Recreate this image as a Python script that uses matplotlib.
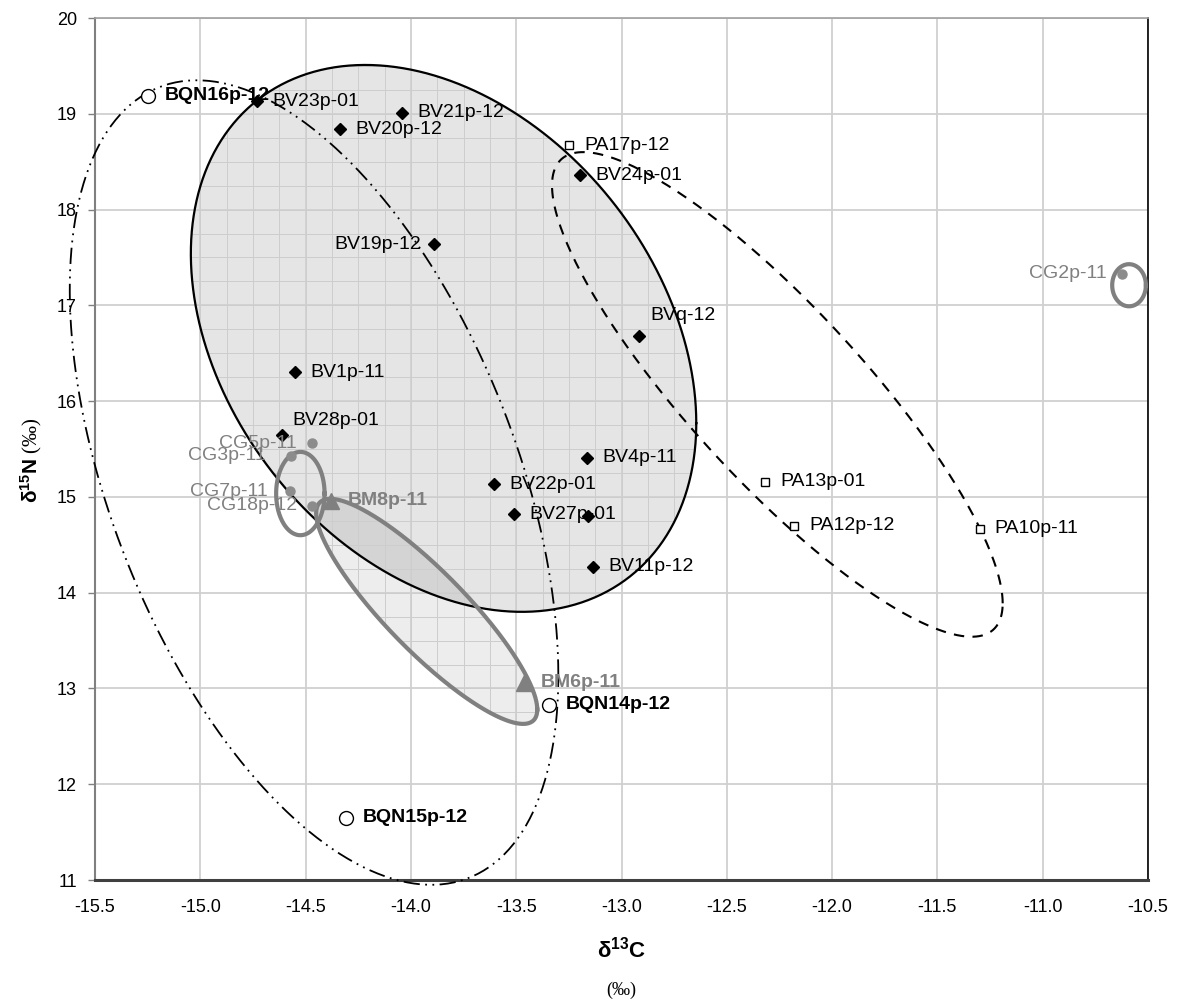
import numpy as np
import matplotlib
matplotlib.use("Agg")
import matplotlib.pyplot as plt
from matplotlib.patches import Polygon
from matplotlib.ticker import FormatStrFormatter, MultipleLocator

plt.rcParams['font.family'] = ['Liberation Sans', 'DejaVu Sans']
plt.rcParams['mathtext.fontset'] = 'custom'
plt.rcParams['mathtext.bf'] = 'Liberation Sans:bold'
plt.rcParams['mathtext.rm'] = 'Liberation Sans'
plt.rcParams['axes.unicode_minus'] = False

# --- data (d13C, d15N) ---
bv_names = ["BV23p-01", "BV21p-12", "BV20p-12", "BV19p-12", "BV24p-01", "BVq-12", "BV1p-11",
            "BV28p-01", "BV4p-11", "BV22p-01", "BV27p-01", "", "BV11p-12"]
bv_x = [-14.73, -14.04, -14.335, -13.89, -13.195, -12.915, -14.55,
        -14.61, -13.165, -13.605, -13.51, -13.16, -13.135]
bv_y = [19.13, 19.01, 18.84, 17.64, 18.36, 16.68, 16.30,
        15.65, 15.41, 15.13, 14.82, 14.80, 14.27]

pa_names = ["PA17p-12", "PA13p-01", "PA12p-12", "PA10p-11"]
pa_x = [-13.25, -12.32, -12.18, -11.30]
pa_y = [18.67, 15.16, 14.70, 14.67]

bqn_names = ["BQN16p-12", "BQN14p-12", "BQN15p-12"]
bqn_x = [-15.25, -13.345, -14.31]
bqn_y = [19.19, 12.83, 11.65]

bm_names = ["BM8p-11", "BM6p-11"]
bm_x = [-14.38, -13.465]
bm_y = [14.96, 13.06]

cg_names = ["CG5p-11", "CG3p-11", "CG7p-11", "CG18p-12", "CG2p-11"]
cg_x = [-14.47, -14.57, -14.575, -14.47, -10.625]
cg_y = [15.56, 15.43, 15.06, 14.91, 17.33]

# ellipses: BV, BQN, PA, BM, CG, CG2
# x = cx + rx cos t, y = cy + ry cos(t - phi), cos(phi) given
ell_cx = [-13.845, -14.46, -12.26, -13.925, -14.525, -10.59]
ell_cy = [16.655, 15.15, 16.07, 13.805, 15.035, 17.21]
ell_rx = [1.20, 1.16, 1.07, 0.525, 0.115, 0.08]
ell_ry = [2.855, 4.20, 2.53, 1.175, 0.435, 0.22]
ell_cos = [-0.31, -0.48, -0.862, -0.872, 0.0, 0.0]

GREY = '#808080'


def ellipse_pts(i):
    t = np.linspace(0, 2 * np.pi, 400)
    phi = np.arccos(ell_cos[i])
    x = ell_cx[i] + ell_rx[i] * np.cos(t)
    y = ell_cy[i] + ell_ry[i] * np.cos(t - phi)
    return x, y


fig = plt.figure(figsize=(11.79, 10.07), dpi=100)
ax = fig.add_axes([0.0806, 0.1261, 0.8931, 0.856])
ax.set_xlim(-15.5, -10.5)
ax.set_ylim(11, 20)

# fills
bvx, bvy = ellipse_pts(0)
bmx, bmy = ellipse_pts(3)
bv_patch = Polygon(np.column_stack([bvx, bvy]), closed=True, facecolor='black',
                   alpha=0.10, edgecolor='none', zorder=0.5)
bm_patch = Polygon(np.column_stack([bmx, bmy]), closed=True, facecolor='black',
                   alpha=0.07, edgecolor='none', zorder=0.5)
ax.add_patch(bv_patch)
ax.add_patch(bm_patch)

# minor grid showing only inside the filled ellipses
for patch in (bv_patch, bm_patch):
    for xv in np.arange(-15.5, -10.49, 0.125):
        ln, = ax.plot([xv, xv], [11, 20], color='#cdcdcd', lw=0.7, zorder=0.8)
        ln.set_clip_path(patch)
    for yv in np.arange(11, 20.01, 0.25):
        ln, = ax.plot([-15.5, -10.5], [yv, yv], color='#cdcdcd', lw=0.7, zorder=0.8)
        ln.set_clip_path(patch)

# major grid
ax.xaxis.set_major_locator(MultipleLocator(0.5))
ax.yaxis.set_major_locator(MultipleLocator(1))
ax.grid(True, color='#d0d0d0', lw=1.3, zorder=1)
ax.set_axisbelow(True)

# outlines
ax.plot(bvx, bvy, color='black', lw=1.6, zorder=3)
x, y = ellipse_pts(1)
ax.plot(x, y, color='black', lw=1.3, ls=(0, (9, 3, 1, 3, 1, 3)), zorder=3, clip_on=False)
x, y = ellipse_pts(2)
ax.plot(x, y, color='black', lw=1.5, ls=(0, (5, 4)), zorder=3)
ax.plot(bmx, bmy, color=GREY, lw=3, zorder=3)
for i in (4, 5):
    x, y = ellipse_pts(i)
    ax.plot(x, y, color=GREY, lw=3, zorder=3)

# markers
ax.plot(bv_x, bv_y, 'D', color='black', ms=6, ls='none', zorder=5)
ax.plot(pa_x, pa_y, 's', mfc='white', mec='black', mew=1, ms=6, ls='none', zorder=5)
ax.plot(bqn_x, bqn_y, 'o', mfc='white', mec='black', mew=1, ms=10, ls='none', zorder=5)
ax.plot(bm_x, bm_y, '^', color=GREY, ms=12, ls='none', zorder=5)
ax.plot(cg_x, cg_y, 'o', color='#8c8c8c', ms=6.5, ls='none', zorder=5)

# labels
FS = 14
special = {"BV19p-12": (-9, 0, 'right'), "BV28p-01": (7, 10, 'left'), "BVq-12": (8, 15, 'left')}
for n, xv, yv in zip(bv_names, bv_x, bv_y):
    if not n:
        continue
    dx, dy, ha = special.get(n, (11, 0, 'left'))
    ax.annotate(n, (xv, yv), xytext=(dx, dy), textcoords='offset points',
                ha=ha, va='center', fontsize=FS, zorder=6)
for n, xv, yv in zip(pa_names, pa_x, pa_y):
    ax.annotate(n, (xv, yv), xytext=(11, 0), textcoords='offset points',
                ha='left', va='center', fontsize=FS, zorder=6)
for n, xv, yv in zip(bqn_names, bqn_x, bqn_y):
    ax.annotate(n, (xv, yv), xytext=(12, 0), textcoords='offset points',
                ha='left', va='center', fontsize=FS, fontweight='bold', zorder=6)
for n, xv, yv in zip(bm_names, bm_x, bm_y):
    ax.annotate(n, (xv, yv), xytext=(12, 0), textcoords='offset points',
                ha='left', va='center', fontsize=FS, fontweight='bold', color=GREY, zorder=6)
cg_dx = {"CG3p-11": -18, "CG7p-11": -16}
for n, xv, yv in zip(cg_names, cg_x, cg_y):
    ax.annotate(n, (xv, yv), xytext=(cg_dx.get(n, -11), 0), textcoords='offset points',
                ha='right', va='center', fontsize=FS, color=GREY, zorder=6)

# axes styling
ax.xaxis.set_major_formatter(FormatStrFormatter('%.1f'))
ax.tick_params(axis='x', length=0, pad=14, labelsize=13)
ax.tick_params(axis='y', length=5, width=1, color='#808080', pad=8, labelsize=13)
ax.spines['left'].set_color('#808080')
ax.spines['left'].set_linewidth(1.5)
ax.spines['bottom'].set_color('#404040')
ax.spines['bottom'].set_linewidth(2.2)
ax.spines['right'].set_color('black')
ax.spines['right'].set_linewidth(1.2)
ax.spines['top'].set_color('#a0a0a0')
ax.spines['top'].set_linewidth(1.2)

fig.text(0.527, 0.057, r'$\mathbf{δ^{13}C}$', ha='center', va='center', fontsize=16)
fig.text(0.527, 0.017, '(‰)', ha='center', va='center', fontsize=13, family='Liberation Serif')
fig.text(0.026, 0.543, r'$\mathbf{δ^{15}N}$ (‰)', ha='center', va='center', rotation=90,
         fontsize=15, family='Liberation Serif')

fig.savefig('out.png', dpi=100)
